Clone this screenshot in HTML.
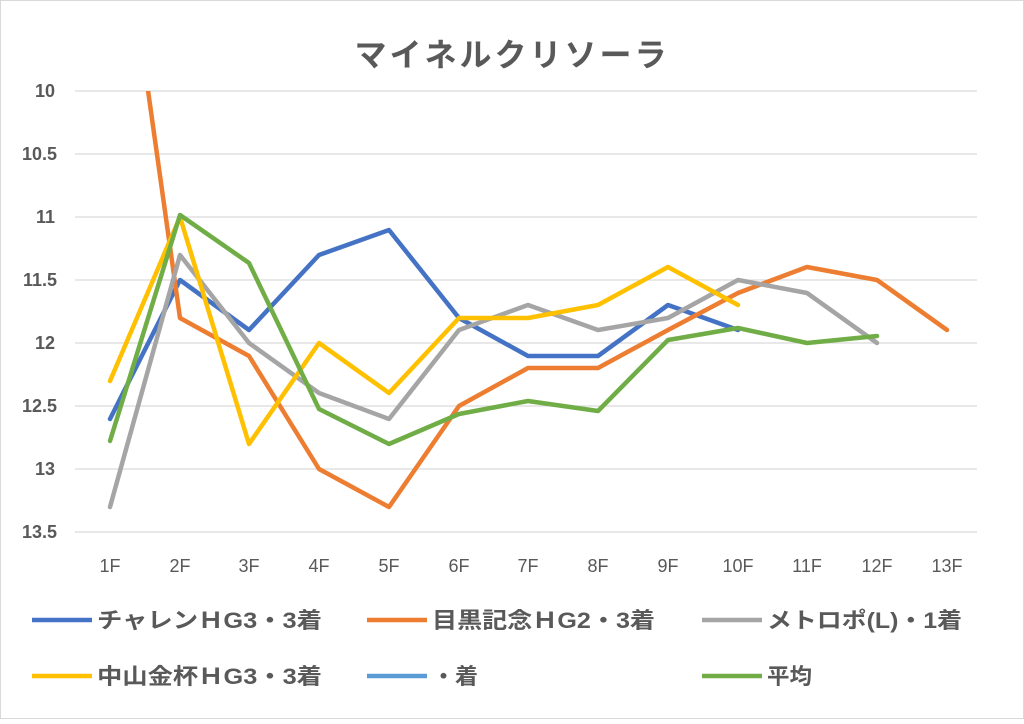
<!DOCTYPE html>
<html><head><meta charset="utf-8"><style>
body{margin:0;background:#fff;}
svg text{font-family:"Liberation Sans","Noto Sans CJK JP",sans-serif;fill:#595959;}
</style></head><body>
<svg width="1024" height="719" viewBox="0 0 1024 719" xmlns="http://www.w3.org/2000/svg">
<rect x="0.5" y="0.5" width="1023" height="718" fill="#fff" stroke="#d9d9d9"/>
<text x="512" y="66" font-size="32" font-weight="bold" text-anchor="middle" letter-spacing="3">マイネルクリソーラ</text>
<g stroke="#d9d9d9" stroke-width="1.3">
<line x1="75" x2="977" y1="91" y2="91"/><line x1="75" x2="977" y1="154" y2="154"/>
<line x1="75" x2="977" y1="217" y2="217"/><line x1="75" x2="977" y1="280" y2="280"/>
<line x1="75" x2="977" y1="343" y2="343"/><line x1="75" x2="977" y1="406" y2="406"/>
<line x1="75" x2="977" y1="469" y2="469"/><line x1="75" x2="977" y1="532" y2="532"/>
</g>
<g font-size="18" font-weight="bold" text-anchor="end">
<text x="55" y="97">10</text><text x="57" y="160">10.5</text><text x="55" y="223">11</text>
<text x="57" y="286">11.5</text><text x="55" y="349">12</text><text x="57" y="412">12.5</text>
<text x="55" y="475">13</text><text x="57" y="538">13.5</text>
</g>
<g font-size="18" text-anchor="middle">
<text x="110" y="572">1F</text><text x="180" y="572">2F</text><text x="249" y="572">3F</text>
<text x="319" y="572">4F</text><text x="389" y="572">5F</text><text x="459" y="572">6F</text>
<text x="528" y="572">7F</text><text x="598" y="572">8F</text><text x="668" y="572">9F</text>
<text x="738" y="572">10F</text><text x="807" y="572">11F</text><text x="877" y="572">12F</text>
<text x="947" y="572">13F</text>
</g>
<defs><clipPath id="c"><rect x="60" y="91" width="930" height="460"/></clipPath></defs>
<g clip-path="url(#c)" fill="none" stroke-width="4.5" stroke-linejoin="round" stroke-linecap="round">
<polyline stroke="#4472c4" points="110,419 180,280 249,330 319,255 389,230 459,318 528,356 598,356 668,305 738,330"/>
<polyline stroke="#ed7d31" points="110,-180 180,318 249,356 319,469 389,507 459,406 528,368 598,368 668,330 738,293 807,267 877,280 947,330"/>
<polyline stroke="#a5a5a5" points="110,507 180,255 249,343 319,393 389,419 459,330 528,305 598,330 668,318 738,280 807,293 877,343"/>
<polyline stroke="#ffc000" points="110,381 180,217 249,444 319,343 389,393 459,318 528,318 598,305 668,267 738,305"/>
<polyline stroke="#70ad47" points="110,441 180,215 249,263 319,409 389,444 459,414 528,401 598,411 668,340 738,328 807,343 877,336"/>
</g>
<g stroke-width="4.5">
<line x1="32" x2="92" y1="620" y2="620" stroke="#4472c4"/>
<line x1="367" x2="427" y1="620" y2="620" stroke="#ed7d31"/>
<line x1="702" x2="762" y1="620" y2="620" stroke="#a5a5a5"/>
<line x1="32" x2="92" y1="676" y2="676" stroke="#ffc000"/>
<line x1="367" x2="427" y1="676" y2="676" stroke="#5b9bd5"/>
<line x1="702" x2="762" y1="676" y2="676" stroke="#70ad47"/>
</g>
<g font-size="22" font-weight="bold">
<text x="97" y="628" textLength="225" lengthAdjust="spacingAndGlyphs">チャレンＨG3・3着</text>
<text x="432" y="628" textLength="223" lengthAdjust="spacingAndGlyphs">目黒記念ＨG2・3着</text>
<text x="767" y="628" textLength="195" lengthAdjust="spacingAndGlyphs">メトロポ(L)・1着</text>
<text x="97" y="684" textLength="225" lengthAdjust="spacingAndGlyphs">中山金杯ＨG3・3着</text>
<text x="432" y="684" textLength="46" lengthAdjust="spacingAndGlyphs">・着</text>
<text x="767" y="684" textLength="45" lengthAdjust="spacingAndGlyphs">平均</text>
</g>
</svg>
</body></html>
